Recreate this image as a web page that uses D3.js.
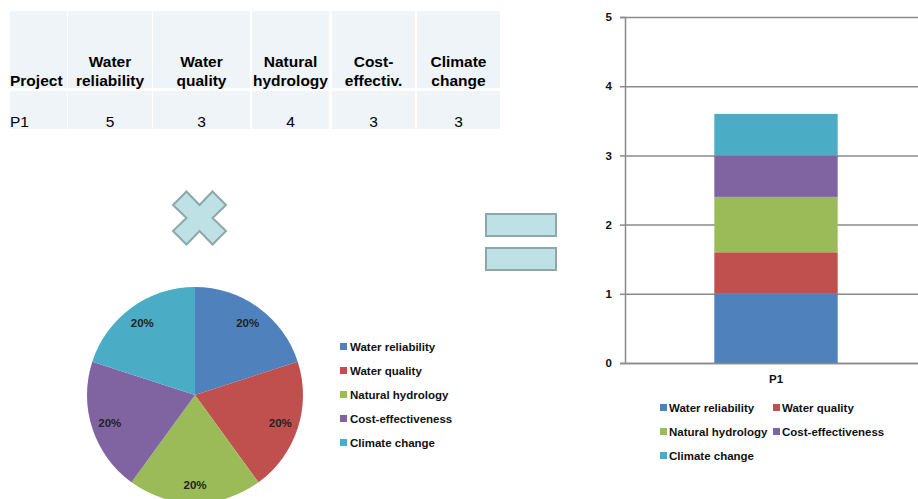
<!DOCTYPE html>
<html>
<head>
<meta charset="utf-8">
<script src="https://cdn.jsdelivr.net/npm/d3@7"></script>
<style>
  html, body { margin: 0; padding: 0; background: #fff; }
  svg { display: block; }
  text { font-family: "Liberation Sans", Arial, sans-serif; }
</style>
</head>
<body>
<svg id="chart" width="918" height="499"></svg>
<script>
// Criteria, scores and weights
const criteria = ["Water reliability", "Water quality", "Natural hydrology", "Cost-effectiveness", "Climate change"];
const tableHeaders = [["Project"], ["Water", "reliability"], ["Water", "quality"], ["Natural", "hydrology"], ["Cost-", "effectiv."], ["Climate", "change"]];
const projects = ["P1"];
const projectScores = [5, 3, 4, 3, 3];
const weights = [0.2, 0.2, 0.2, 0.2, 0.2];
const weightLabels = ["20%", "20%", "20%", "20%", "20%"];
const weightedScores = [1.0, 0.6, 0.8, 0.6, 0.6];
const yTicks = [0, 1, 2, 3, 4, 5];
const colors = ["#4F81BD", "#C0504D", "#9BBB59", "#8064A2", "#4BACC6"];

const svg = d3.select("#chart");

// ---- Score table ----
const colEdges = [[10, 67], [68, 152], [153, 250], [252, 329], [332, 415], [417, 500]];
const headRow = [11, 88], dataRow = [91, 129];
const table = svg.append("g");
colEdges.forEach(([x0, x1], i) => {
  [headRow, dataRow].forEach(([y0, y1]) => {
    table.append("rect").attr("x", x0).attr("y", y0)
      .attr("width", x1 - x0).attr("height", y1 - y0).attr("fill", "#eef4f7");
  });
  const cx = i === 0 ? x0 : (x0 + x1) / 2;
  const anchor = i === 0 ? "start" : "middle";
  const lines = tableHeaders[i];
  lines.forEach((ln, j) => {
    table.append("text").attr("x", cx).attr("y", 86 - (lines.length - 1 - j) * 19)
      .attr("text-anchor", anchor).attr("font-size", 15.5).attr("font-weight", "bold")
      .attr("fill", "#000").text(ln);
  });
  table.append("text").attr("x", cx).attr("y", 127)
    .attr("text-anchor", anchor).attr("font-size", 15.5).attr("fill", "#000")
    .text(i === 0 ? projects[0] : projectScores[i - 1]);
});

// ---- Operator symbols ----
const opFill = "#bde1e4", opStroke = "#8ea7a8";
const s = 26.5, a = 13.5, n = 13;
const cross = [[-s, -s + a], [-s + a, -s], [0, -n], [s - a, -s], [s, -s + a], [n, 0],
               [s, s - a], [s - a, s], [0, n], [-s + a, s], [-s, s - a], [-n, 0]];
svg.append("polygon").attr("transform", "translate(199.5,218)")
  .attr("points", cross.map(p => p.join(",")).join(" "))
  .attr("fill", opFill).attr("stroke", opStroke).attr("stroke-width", 2);
[214, 248].forEach(y => {
  svg.append("rect").attr("x", 486).attr("y", y).attr("width", 70).attr("height", 22)
    .attr("fill", opFill).attr("stroke", opStroke).attr("stroke-width", 2);
});

// ---- Weights pie ----
const pieG = svg.append("g").attr("transform", "translate(195,395)");
const pie = d3.pie().sort(null)(weights);
const R = 108;
const arc = d3.arc().innerRadius(0).outerRadius(R);
const labelArc = d3.arc().innerRadius(R * 0.83).outerRadius(R * 0.83);
pieG.selectAll("path").data(pie).join("path")
  .attr("d", arc).attr("fill", (d, i) => colors[i]);
pieG.selectAll("text").data(pie).join("text")
  .attr("transform", d => `translate(${labelArc.centroid(d)})`)
  .attr("text-anchor", "middle").attr("dy", "0.35em")
  .attr("font-size", 11.5).attr("font-weight", "bold").attr("fill", "#222")
  .text((d, i) => weightLabels[i]);

// pie legend
const pieLeg = svg.append("g").attr("transform", "translate(340,347)");
criteria.forEach((c, i) => {
  const g = pieLeg.append("g").attr("transform", `translate(0,${i * 24})`);
  g.append("rect").attr("x", 0).attr("y", -4).attr("width", 7).attr("height", 7).attr("fill", colors[i]);
  g.append("text").attr("x", 10).attr("y", 4).attr("font-size", 11.5).attr("font-weight", "bold")
    .attr("fill", "#111").text(c);
});

// ---- Weighted score stacked bar ----
const plot = { left: 625, right: 927, top: 17, bottom: 363 };
const y = d3.scaleLinear().domain([0, 5]).range([plot.bottom, plot.top]);
const x = d3.scaleBand().domain(projects).range([plot.left, plot.right]).padding(0.42);

svg.append("g").attr("transform", `translate(${plot.left},0)`)
  .call(d3.axisLeft(y).tickValues(yTicks).tickSize(-(plot.right - plot.left)).tickFormat(""))
  .call(g => g.select(".domain").remove())
  .call(g => g.selectAll("line").attr("stroke", "#8a8a8a").attr("stroke-width", 1.5));

const stackData = [Object.fromEntries(criteria.map((c, i) => [c, weightedScores[i]]))];
const series = d3.stack().keys(criteria)(stackData);
svg.append("g").selectAll("rect").data(series).join("rect")
  .attr("x", x("P1")).attr("width", x.bandwidth())
  .attr("y", d => y(d[0][1])).attr("height", d => y(d[0][0]) - y(d[0][1]))
  .attr("fill", (d, i) => colors[i]);

svg.append("g").attr("transform", `translate(${plot.left},0)`)
  .call(d3.axisLeft(y).tickValues(yTicks).tickSize(5).tickPadding(8).tickFormat(d3.format("d")))
  .call(g => g.select(".domain").attr("stroke", "#8a8a8a").attr("stroke-width", 1.5))
  .call(g => g.selectAll("line").attr("stroke", "#8a8a8a").attr("stroke-width", 1.5))
  .call(g => g.selectAll("text").attr("font-size", 11.5).attr("font-weight", "bold")
    .attr("fill", "#111").attr("font-family", "Liberation Sans, Arial, sans-serif"));

svg.append("g").attr("transform", `translate(0,${plot.bottom})`)
  .call(d3.axisBottom(x).tickSize(0).tickPadding(12))
  .call(g => g.select(".domain").attr("stroke", "#8a8a8a").attr("stroke-width", 1.5))
  .call(g => g.selectAll("text").attr("font-size", 11.5).attr("font-weight", "bold")
    .attr("fill", "#111").attr("font-family", "Liberation Sans, Arial, sans-serif"));

// bar legend
const barLeg = svg.append("g").attr("transform", "translate(660,408)");
criteria.forEach((c, i) => {
  const g = barLeg.append("g").attr("transform", `translate(${(i % 2) * 113},${Math.floor(i / 2) * 24})`);
  g.append("rect").attr("x", 0).attr("y", -4).attr("width", 7).attr("height", 7).attr("fill", colors[i]);
  g.append("text").attr("x", 9).attr("y", 4).attr("font-size", 11.5).attr("font-weight", "bold")
    .attr("fill", "#111").text(c);
});
</script>
</body>
</html>
